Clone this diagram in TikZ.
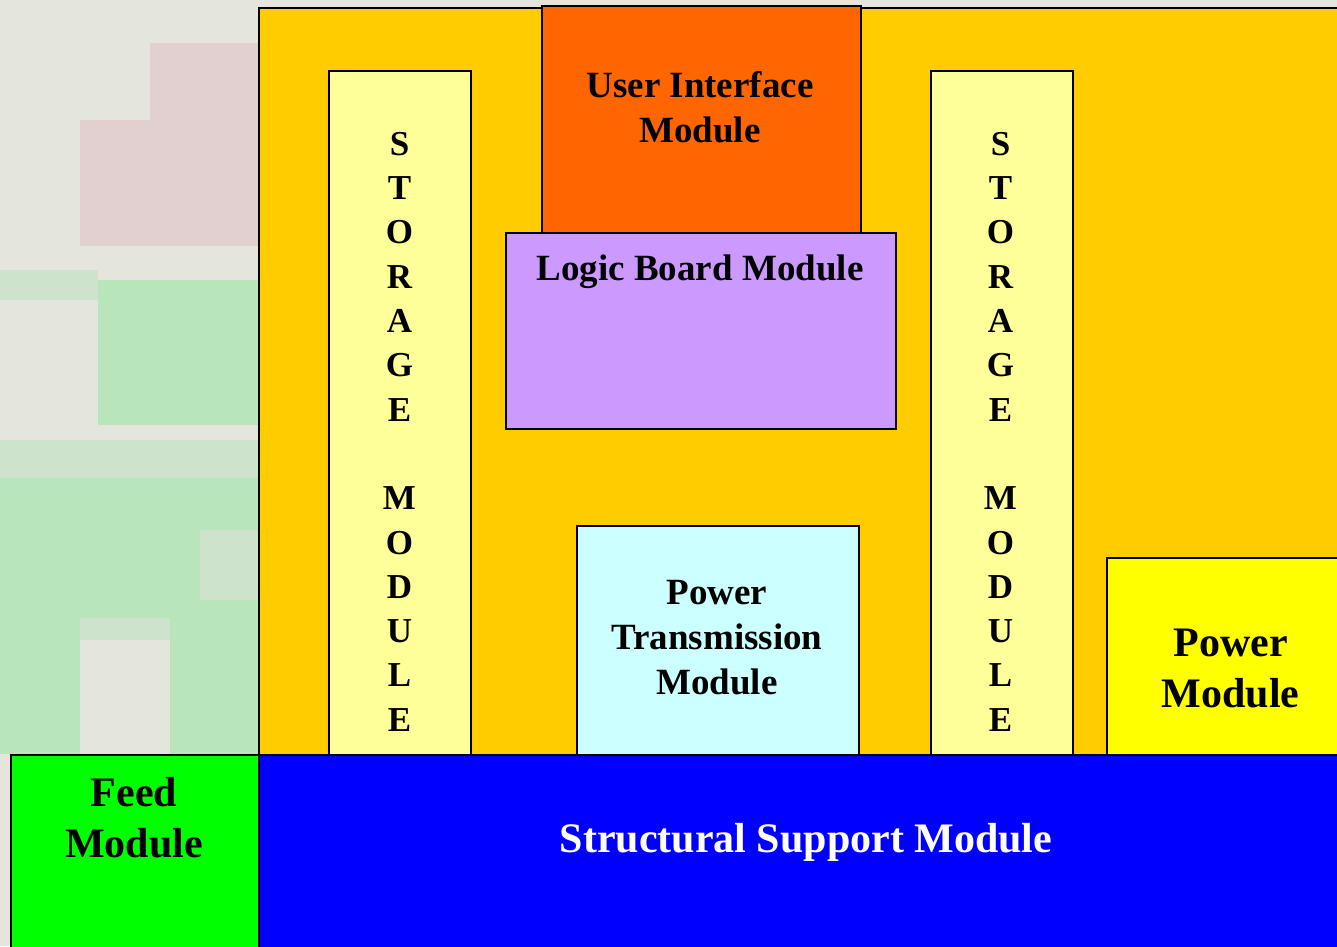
\documentclass[tikz,border=0pt]{standalone}
\usepackage{fontspec}
\setmainfont{Liberation Serif}
\definecolor{bgpale}{HTML}{E4E6DE}
\definecolor{bgpink}{HTML}{E2D0D1}
\definecolor{bggreen}{HTML}{B9E5BB}
\definecolor{bglight}{HTML}{CDE3CC}
\definecolor{housing}{HTML}{FFCC00}
\definecolor{storagefill}{HTML}{FFFF99}
\definecolor{uifill}{HTML}{FF6600}
\definecolor{logicfill}{HTML}{CC99FF}
\definecolor{ptfill}{HTML}{CCFFFF}
\definecolor{powerfill}{HTML}{FFFF00}
\definecolor{feedfill}{HTML}{00FF00}
\definecolor{structfill}{HTML}{0000FF}
\tikzset{
  module/.style={draw=black, line width=1.8pt, anchor=north west, inner sep=0pt},
  lbl/.style={font=\bfseries\fontsize{37}{45}\selectfont, align=center, inner sep=0pt, anchor=north},
  biglbl/.style={font=\bfseries\fontsize{42}{51}\selectfont, align=center, inner sep=0pt, anchor=north},
  vlbl/.style={font=\bfseries\fontsize{35}{44.3}\selectfont, align=center, inner sep=0pt, anchor=north}
}
\begin{document}
\begin{tikzpicture}[x=1pt, y=-1pt]
\useasboundingbox (0,0) rectangle (1337,946);
\clip (0,0) rectangle (1337,946);

% soft backdrop behind the housing
\fill[bgpale] (0,0) rectangle (1337,946);
\fill[bgpink] (150,43) -- (258,43) -- (258,246) -- (80,246) -- (80,120) -- (150,120) -- cycle;
\fill[bglight] (0,270) rectangle (98,300);
\fill[bggreen] (98,280) rectangle (258,425);
\fill[bglight] (0,440) rectangle (258,478);
\fill[bggreen] (0,478) rectangle (258,618);
\fill[bglight] (200,530) rectangle (258,600);
\fill[bggreen] (0,618) rectangle (80,754);
\fill[bggreen] (170,618) rectangle (258,754);
\fill[bglight] (80,618) rectangle (170,640);

% main housing
\node[module, fill=housing, minimum width=1120pt, minimum height=748pt] (housing) at (258,7) {};

% storage columns
\node[module, fill=storagefill, minimum width=142pt, minimum height=684pt] (storL) at (328,70) {};
\node[module, fill=storagefill, minimum width=142pt, minimum height=684pt] (storR) at (930,70) {};
\node[vlbl] (storLtxt) at (399.5,132) {S\\T\\O\\R\\A\\G\\E\\\mbox{}\\M\\O\\D\\U\\L\\E};
\node[vlbl] (storRtxt) at (1000.5,132) {S\\T\\O\\R\\A\\G\\E\\\mbox{}\\M\\O\\D\\U\\L\\E};

% user interface and logic board
\node[module, fill=uifill, minimum width=319pt, minimum height=228pt] (ui) at (541,5) {};
\node[module, fill=logicfill, minimum width=390pt, minimum height=196pt] (logic) at (505,232) {};
\node[lbl] (uitxt) at (700,71.5) {User Interface\\Module};
\node[lbl] (logictxt) at (700,254.5) {Logic Board Module};

% power transmission
\node[module, fill=ptfill, minimum width=282pt, minimum height=229pt] (pt) at (576,525) {};
\node[lbl] (pttxt) at (717,580.5) {Power\\Transmission\\Module};

% power module
\node[module, fill=powerfill, minimum width=260pt, minimum height=197pt] (power) at (1106,557) {};
\node[biglbl] (powertxt) at (1230.5,628.7) {Power\\Module};

% feed and structural support
\node[module, fill=feedfill, minimum width=248pt, minimum height=220pt] (feed) at (10,754) {};
\node[module, fill=structfill, minimum width=1120pt, minimum height=220pt] (struct) at (258,754) {};
\node[biglbl] (feedtxt) at (134,777.5) {Feed\\Module};
\node[biglbl, text=white] (structtxt) at (806,823) {Structural Support Module};
\end{tikzpicture}
\end{document}
